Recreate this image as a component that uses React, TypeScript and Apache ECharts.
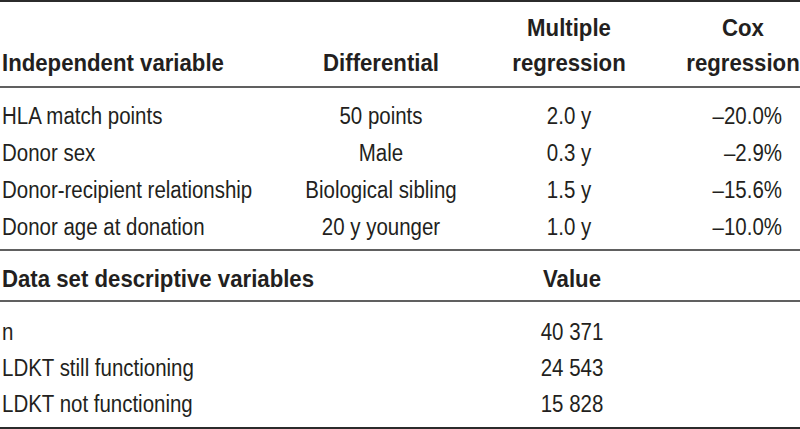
import React, { useEffect, useRef } from "react";
import * as echarts from "echarts";

const headerCol1 = "Independent variable";
const headerCol2 = "Differential";
const headerCol3 = ["Multiple", "regression"];
const headerCol4 = ["Cox", "regression"];
const variables = ["HLA match points", "Donor sex", "Donor-recipient relationship", "Donor age at donation"];
const differentials = ["50 points", "Male", "Biological sibling", "20 y younger"];
const multipleRegression = ["2.0 y", "0.3 y", "1.5 y", "1.0 y"];
const coxRegression = ["\u201320.0%", "\u20132.9%", "\u201315.6%", "\u201310.0%"];
const descHeader = "Data set descriptive variables";
const descValueHeader = "Value";
const descriptiveLabels = ["n", "LDKT still functioning", "LDKT not functioning"];
const descriptiveValues = ["40 371", "24 543", "15 828"];

const FONT_FAMILY = '"Liberation Sans", Arial, sans-serif';
const COLOR = "#231f20";
const BODY = `23px ${FONT_FAMILY}`;
const BOLD = `bold 23px ${FONT_FAMILY}`;
const BODY_SCALE = 0.89;
const BOLD_SCALE = 0.965;

const COL1_X = 2;
const COL2_CX = 381;
const COL3_CX = 569;
const COL4_R = 782;
const COL4_CX = 743;
const ROW_Y = [116.5, 153, 190, 227];
const DESC_ROW_Y = [332, 368, 404];

function txt(text: string, x: number, y: number, align: string, bold: boolean) {
  return {
    type: "text",
    x,
    y,
    scaleX: bold ? BOLD_SCALE : BODY_SCALE,
    style: { text, font: bold ? BOLD : BODY, fill: COLOR, align, verticalAlign: "middle" },
  };
}

function hline(y: number, w: number) {
  return {
    type: "line",
    shape: { x1: 0, y1: y, x2: 800, y2: y },
    style: { stroke: "#2b2b2b", lineWidth: w },
  };
}

export default function App() {
  const ref = useRef<HTMLDivElement>(null);
  useEffect(() => {
    document.body.style.margin = "0";
    if (!ref.current) return;
    const chart = echarts.init(ref.current, null, { renderer: "svg" });
    const elements: any[] = [];
    elements.push(hline(1, 2));
    elements.push(hline(87, 1.5));
    elements.push(hline(250, 1.5));
    elements.push(hline(301, 1.5));
    elements.push(hline(428, 2));
    elements.push(txt(headerCol1, COL1_X, 63.5, "left", true));
    elements.push(txt(headerCol2, COL2_CX, 63.5, "center", true));
    elements.push(txt(headerCol3[0], COL3_CX, 28.5, "center", true));
    elements.push(txt(headerCol3[1], COL3_CX, 63.5, "center", true));
    elements.push(txt(headerCol4[0], COL4_CX, 28.5, "center", true));
    elements.push(txt(headerCol4[1], COL4_CX, 63.5, "center", true));
    variables.forEach((v, i) => {
      elements.push(txt(v, COL1_X, ROW_Y[i], "left", false));
      elements.push(txt(differentials[i], COL2_CX, ROW_Y[i], "center", false));
      elements.push(txt(multipleRegression[i], COL3_CX, ROW_Y[i], "center", false));
      elements.push(txt(coxRegression[i], COL4_R, ROW_Y[i], "right", false));
    });
    elements.push(txt(descHeader, COL1_X, 279.5, "left", true));
    elements.push(txt(descValueHeader, COL3_CX + 3, 279.5, "center", true));
    descriptiveLabels.forEach((l, i) => {
      elements.push(txt(l, COL1_X, DESC_ROW_Y[i], "left", false));
      elements.push(txt(descriptiveValues[i], COL3_CX + 3, DESC_ROW_Y[i], "center", false));
    });
    chart.setOption({
      animation: false,
      backgroundColor: "#ffffff",
      graphic: { elements },
    });
    return () => chart.dispose();
  }, []);
  return <div ref={ref} style={{ width: 800, height: 429 }} />;
}
